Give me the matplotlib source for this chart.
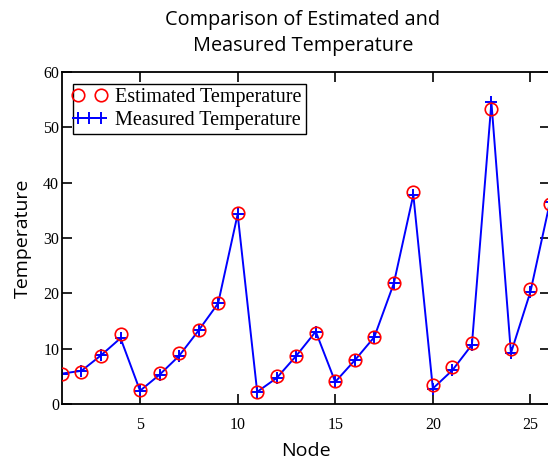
import matplotlib
matplotlib.use("Agg")
import matplotlib.pyplot as plt
from matplotlib.legend_handler import HandlerLine2D

# node numbers and the two temperature series
nodes = list(range(1, 27))
estimated = [5.5, 5.8, 8.6, 12.6, 2.6, 5.6, 9.2, 13.3, 18.3, 34.6,
             2.2, 5.1, 8.6, 12.9, 4.2, 7.9, 12.2, 21.9, 38.3, 3.4,
             6.6, 11.1, 53.4, 10.0, 20.8, 36.2]
measured = [5.5, 6.0, 8.8, 11.9, 2.4, 5.3, 8.7, 13.3, 18.2, 34.3,
            2.2, 4.7, 8.7, 13.1, 4.0, 7.9, 12.1, 21.8, 37.8, 2.8,
            6.1, 10.7, 54.5, 9.2, 20.3, 36.5]

xticks = [5, 10, 15, 20, 25]
yticks = [0, 10, 20, 30, 40, 50, 60]

serif = ["Liberation Serif", "DejaVu Serif"]
sans = ["Open Sans", "DejaVu Sans"]

fig = plt.figure(figsize=(5.48, 4.63), dpi=100)
ax = fig.add_axes([0.1131, 0.1274, 0.8905, 0.7171])

ax.plot(nodes, measured, color="#0000ff", lw=1.4, marker="+", ms=9,
        mew=1.4, label="Measured Temperature", zorder=2)
ax.plot(nodes, estimated, ls="none", marker="o", ms=9, mfc="none",
        mec="#ff0000", mew=1.2, label="Estimated Temperature", zorder=3)

ax.set_xlim(1, 26)
ax.set_ylim(0, 60)
ax.set_xticks(xticks)
ax.set_yticks(yticks)
ax.tick_params(direction="in", length=7, width=1.2, top=True, right=True,
               labelsize=11.5)
ax.tick_params(axis="x", pad=9)
ax.tick_params(axis="y", pad=2)
for lab in ax.get_xticklabels() + ax.get_yticklabels():
    lab.set_family(serif)
for sp in ax.spines.values():
    sp.set_linewidth(1.3)

ax.set_xlabel("Node", family=sans, fontsize=14, labelpad=7)
ax.set_ylabel("Temperature", family=sans, fontsize=14, labelpad=8)
fig.text(0.553, 0.929, "Comparison of Estimated and\nMeasured Temperature",
         family=sans, fontsize=14.3, ha="center", va="center", linespacing=1.4)

handles, labels = ax.get_legend_handles_labels()
leg = ax.legend(handles[::-1], labels[::-1], loc="upper left",
                bbox_to_anchor=(0.022, 0.965), fancybox=False, framealpha=1,
                edgecolor="black", borderpad=0.2, handlelength=1.25,
                handletextpad=0.65, labelspacing=0.2, borderaxespad=0,
                prop={"family": serif, "size": 14.5},
                handler_map={handles[1]: HandlerLine2D(numpoints=2, marker_pad=0.05),
                             handles[0]: HandlerLine2D(numpoints=3, marker_pad=0.05)})
leg.get_frame().set_linewidth(1.0)

fig.savefig("out.png", dpi=100)
